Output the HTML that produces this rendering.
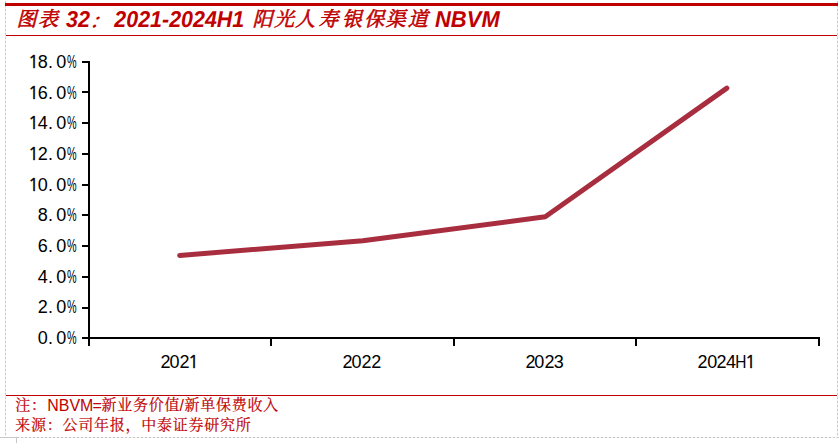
<!DOCTYPE html>
<html><head><meta charset="utf-8"><title>图表32</title>
<style>html,body{margin:0;padding:0;background:#fff;width:840px;height:443px;overflow:hidden}svg{display:block}</style>
</head><body>
<svg width="840" height="443" viewBox="0 0 840 443">
<g stroke="#C8C8C8" stroke-width="1" fill="none">
<line x1="5.5" y1="6" x2="5.5" y2="437" stroke="#F0F0F0"/><line x1="837.5" y1="6" x2="837.5" y2="437" stroke="#F0F0F0"/><line x1="18" y1="437.5" x2="838" y2="437.5" stroke="#F0F0F0"/>
<line x1="5.5" y1="1" x2="5.5" y2="437" stroke-dasharray="2 2"/>
<line x1="837.5" y1="1" x2="837.5" y2="437" stroke-dasharray="2 2"/>
<line x1="17" y1="437.5" x2="839" y2="437.5" stroke-dasharray="2 2"/>
<line x1="0" y1="437.5" x2="18" y2="437.5"/>
<line x1="16.5" y1="438" x2="16.5" y2="443"/>
</g>
<rect x="5" y="3" width="833" height="3" fill="#C00000"/>
<rect x="6" y="35" width="831" height="1" fill="#C00000"/>
<rect x="6" y="395" width="831" height="1" fill="#C00000"/>
<g fill="#000">
<rect x="88" y="61" width="2" height="285"/>
<rect x="82" y="337" width="738" height="2"/>
<rect x="82" y="307" width="7" height="2"/>
<rect x="82" y="276" width="7" height="2"/>
<rect x="82" y="245" width="7" height="2"/>
<rect x="82" y="214" width="7" height="2"/>
<rect x="82" y="184" width="7" height="2"/>
<rect x="82" y="153" width="7" height="2"/>
<rect x="82" y="122" width="7" height="2"/>
<rect x="82" y="91" width="7" height="2"/>
<rect x="82" y="61" width="7" height="2"/>
<rect x="270" y="338" width="2" height="8"/>
<rect x="453" y="338" width="2" height="8"/>
<rect x="635" y="338" width="2" height="8"/>
<rect x="818" y="338" width="2" height="8"/>
</g>
<polyline points="179.65,255.40 362.75,240.80 545.25,216.80 726.85,88.10" fill="none" stroke="#A82E3F" stroke-width="5" stroke-linecap="round" stroke-linejoin="round"/>
<g font-family="'Liberation Sans', Arial, sans-serif" font-size="18" fill="#000" text-anchor="middle">
<text x="42.8 50.4 61.2" y="344.10">0.0</text>
<text transform="translate(71.7 344.10) scale(0.6 1)">%</text>
<text x="42.8 50.4 61.2" y="313.43">2.0</text>
<text transform="translate(71.7 313.43) scale(0.6 1)">%</text>
<text x="42.8 50.4 61.2" y="282.77">4.0</text>
<text transform="translate(71.7 282.77) scale(0.6 1)">%</text>
<text x="42.8 50.4 61.2" y="252.10">6.0</text>
<text transform="translate(71.7 252.10) scale(0.6 1)">%</text>
<text x="42.8 50.4 61.2" y="221.43">8.0</text>
<text transform="translate(71.7 221.43) scale(0.6 1)">%</text>
<text font-family="NanumGothic, 'Liberation Sans', sans-serif" stroke="#000" stroke-width="0.45" text-anchor="start" x="28" y="190.77">1</text>
<text x="42.8 50.4 61.2" y="190.77">0.0</text>
<text transform="translate(71.7 190.77) scale(0.6 1)">%</text>
<text font-family="NanumGothic, 'Liberation Sans', sans-serif" stroke="#000" stroke-width="0.45" text-anchor="start" x="28" y="160.10">1</text>
<text x="42.8 50.4 61.2" y="160.10">2.0</text>
<text transform="translate(71.7 160.10) scale(0.6 1)">%</text>
<text font-family="NanumGothic, 'Liberation Sans', sans-serif" stroke="#000" stroke-width="0.45" text-anchor="start" x="28" y="129.43">1</text>
<text x="42.8 50.4 61.2" y="129.43">4.0</text>
<text transform="translate(71.7 129.43) scale(0.6 1)">%</text>
<text font-family="NanumGothic, 'Liberation Sans', sans-serif" stroke="#000" stroke-width="0.45" text-anchor="start" x="28" y="98.77">1</text>
<text x="42.8 50.4 61.2" y="98.77">6.0</text>
<text transform="translate(71.7 98.77) scale(0.6 1)">%</text>
<text font-family="NanumGothic, 'Liberation Sans', sans-serif" stroke="#000" stroke-width="0.45" text-anchor="start" x="28" y="68.10">1</text>
<text x="42.8 50.4 61.2" y="68.10">8.0</text>
<text transform="translate(71.7 68.10) scale(0.6 1)">%</text>
</g>
<g font-family="'Liberation Sans', Arial, sans-serif" font-size="18" fill="#000" text-anchor="middle">
<text x="165.6 174.5 184.6" y="367.9">202</text>
<text font-family="NanumGothic, 'Liberation Sans', sans-serif" stroke="#000" stroke-width="0.45" text-anchor="start" x="188" y="367.9">1</text>
<text x="347.5 356.4 366.5 376.3" y="367.9">2022</text>
<text x="530.45 539.35 549.45 558.8" y="367.9">2023</text>
<text x="702.6 712.25 721.4 731.1" y="367.9">2024</text>
<text transform="translate(740.9 367.9) scale(0.86 1)">H</text>
<text font-family="NanumGothic, 'Liberation Sans', sans-serif" stroke="#000" stroke-width="0.45" text-anchor="start" x="745" y="367.9">1</text>
</g>
<g fill="#C00000" font-style="italic">
<text font-family="'Noto Serif CJK SC', 'Noto Sans CJK SC', serif" font-size="20" stroke="#C00000" stroke-width="0.6" text-anchor="middle" x="26.6 48.0" y="26">图表</text>
<text font-family="'Liberation Sans', Arial, sans-serif" font-size="22.8" font-weight="700" text-rendering="geometricPrecision" x="66" y="27" textLength="24" lengthAdjust="spacingAndGlyphs">32</text>
<text font-family="'Noto Serif CJK SC', 'Noto Sans CJK SC', serif" font-size="20" font-style="normal" stroke="#C00000" stroke-width="0.6" text-anchor="middle" transform="translate(98.9 28.4) skewX(-24)">：</text>
<text font-family="'Liberation Sans', Arial, sans-serif" font-size="22.8" font-weight="700" text-rendering="geometricPrecision" x="114.3" y="27" textLength="130" lengthAdjust="spacingAndGlyphs">2021-2024H1</text>
<text font-family="'Noto Serif CJK SC', 'Noto Sans CJK SC', serif" font-size="20" stroke="#C00000" stroke-width="0.6" text-anchor="middle" x="262.6 284.1 305.0 328.5 352.0 374.3 395.4 417.7" y="26">阳光人寿银保渠道</text>
<text font-family="'Liberation Sans', Arial, sans-serif" font-size="22.8" font-weight="700" text-rendering="geometricPrecision" x="435" y="27" textLength="64.7" lengthAdjust="spacingAndGlyphs">NBVM</text>
</g>
<g fill="#C00000">
<text font-family="'Noto Serif CJK SC', 'Noto Sans CJK SC', serif" font-size="15" stroke="#C00000" stroke-width="0.2" text-anchor="middle" x="22.88 38.62" y="410.3">注：</text>
<text font-family="'Liberation Sans', Arial, sans-serif" font-size="16" x="47.3" y="411" textLength="46.1" lengthAdjust="spacingAndGlyphs">NBVM</text>
<text font-family="'Liberation Sans', Arial, sans-serif" font-size="16" x="92.4" y="411">=</text>
<text font-family="'Noto Serif CJK SC', 'Noto Sans CJK SC', serif" font-size="15" stroke="#C00000" stroke-width="0.2" text-anchor="middle" x="109.00 124.75 140.50 156.25 172.00" y="410.3">新业务价值</text>
<text font-family="'Liberation Sans', Arial, sans-serif" font-size="16" x="179.6" y="411">/</text>
<text font-family="'Noto Serif CJK SC', 'Noto Sans CJK SC', serif" font-size="15" stroke="#C00000" stroke-width="0.2" text-anchor="middle" x="192.00 207.75 223.50 239.25 255.00 270.75" y="410.3">新单保费收入</text>
<text font-family="'Noto Serif CJK SC', 'Noto Sans CJK SC', serif" font-size="15" stroke="#C00000" stroke-width="0.2" text-anchor="middle" x="22.88 38.62 54.38 70.12 85.88 101.62 117.38 133.12 148.88 164.62 180.38 196.12 211.88 227.62 243.38" y="430.0">来源：公司年报，中泰证券研究所</text>
</g>
</svg>
</body></html>
